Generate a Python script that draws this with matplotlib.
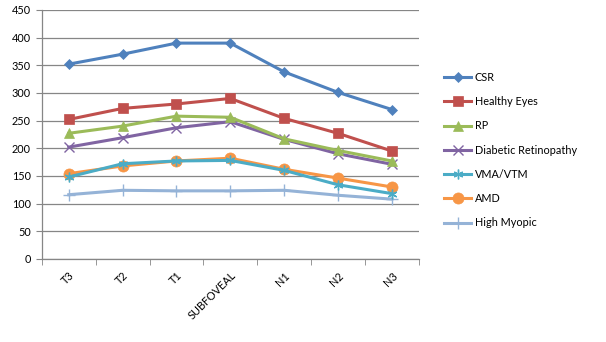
import numpy as np
import matplotlib.pyplot as plt

# data
categories = ['T3', 'T2', 'T1', 'SUBFOVEAL', 'N1', 'N2', 'N3']
csr = [352, 370, 390, 390, 338, 301, 270]
healthy = [252, 272, 280, 290, 254, 227, 195]
rp = [227, 240, 258, 256, 217, 196, 177]
diabetic = [202, 219, 237, 248, 216, 190, 171]
vma = [148, 172, 177, 178, 160, 134, 118]
amd = [154, 168, 177, 182, 162, 146, 130]
myopic = [116, 124, 123, 123, 124, 115, 108]

names = ['CSR', 'Healthy Eyes', 'RP', 'Diabetic Retinopathy', 'VMA/VTM', 'AMD', 'High Myopic']
series = [csr, healthy, rp, diabetic, vma, amd, myopic]
colors = ['#4F81BD', '#C0504D', '#9BBB59', '#8064A2', '#4BACC6', '#F79646', '#95B3D7']
markers = ['D', 's', '^', 'x', (6, 2, 0), 'o', '+']
msizes = [5, 7, 7, 7, 7, 8, 8]

plt.rcParams['font.family'] = ['Lato', 'DejaVu Sans']

fig = plt.figure(figsize=(6.06, 3.42), dpi=100)
ax = fig.add_axes([0.069, 0.243, 0.622, 0.728])

x = np.arange(len(categories))
handles = []
for i in range(len(series)):
    mk = markers[i]
    thin = mk in ('x', '+') or isinstance(mk, tuple)
    line, = ax.plot(x, series[i], color=colors[i], lw=2.2, marker=mk,
                    markersize=msizes[i], markerfacecolor=colors[i],
                    markeredgecolor=colors[i], markeredgewidth=1.0 if thin else 0.5,
                    zorder=3 + (len(series) - i) * 0.1)
    handles.append(line)

ax.set_xlim(-0.5, len(categories) - 0.5)
ax.set_ylim(0, 450)
ax.set_yticks(np.arange(0, 451, 50))
ax.yaxis.grid(True, color='#868686', lw=0.9)
ax.set_axisbelow(True)

ax.set_xticks(x)
ax.set_xticklabels(categories, rotation=45, ha='right', rotation_mode='anchor', fontsize=7.8)
ax.tick_params(axis='x', length=0, pad=8)
ax.set_xticks(np.arange(-0.5, len(categories)), minor=True)
ax.tick_params(axis='x', which='minor', length=4, color='#868686', direction='out')
ax.tick_params(axis='y', length=4, color='#868686', labelsize=7.8, pad=4)

for s in ['top', 'right']:
    ax.spines[s].set_visible(False)
for s in ['left', 'bottom']:
    ax.spines[s].set_color('#868686')
    ax.spines[s].set_linewidth(0.9)

fig.legend(handles, names, loc='upper left', bbox_to_anchor=(0.717, 0.818),
           frameon=False, fontsize=7.8, handlelength=2.5, labelspacing=1.22,
           handletextpad=0.3)

fig.savefig('out.png', dpi=100)
